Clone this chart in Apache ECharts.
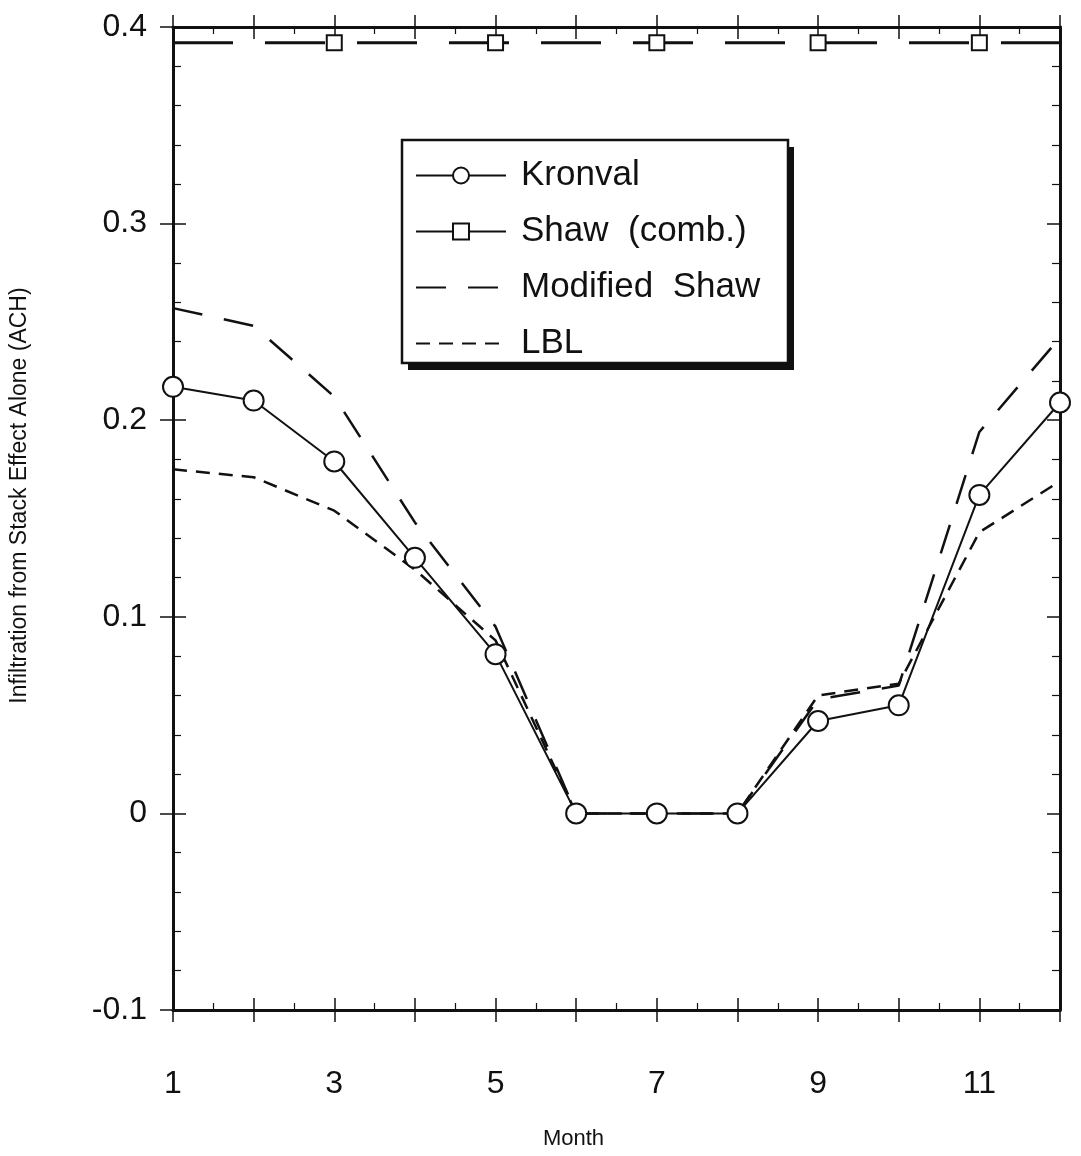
<!DOCTYPE html>
<html>
<head>
<meta charset="utf-8">
<script src="https://cdn.jsdelivr.net/npm/echarts@6/dist/echarts.min.js"></script>
<style>
    html, body { margin: 0; padding: 0; background: #fff; }
    #chart { width: 1081px; height: 1156px; }
</style>
</head>
<body>
<div id="chart"></div>
<script>
const months = [1, 2, 3, 4, 5, 6, 7, 8, 9, 10, 11, 12];
const kronval = [0.217, 0.210, 0.179, 0.130, 0.081, 0, 0, 0, 0.047, 0.055, 0.162, 0.209];
const shawComb = [0.392, 0.392, 0.392, 0.392, 0.392, 0.392, 0.392, 0.392, 0.392, 0.392, 0.392, 0.392];
const shawMarked = [3, 5, 7, 9, 11];
const modifiedShaw = [0.257, 0.248, 0.212, 0.148, 0.095, 0, 0, 0, 0.058, 0.065, 0.194, 0.242];
const lbl = [0.175, 0.171, 0.154, 0.124, 0.088, 0, 0, 0, 0.060, 0.066, 0.143, 0.169];
const yTicks = [-0.1, 0, 0.1, 0.2, 0.3, 0.4];
const xLabelled = [1, 3, 5, 7, 9, 11];

const INK = '#111';
const FONT = '"Liberation Sans", Arial, Helvetica, sans-serif';

function pairs(vals) {
    return months.map((m, i) => [m, vals[i]]);
}

function xAxisDef(pos, inner) {
    return {
        type: 'value', min: 1, max: 12, interval: 1, position: pos,
        axisLine: { show: inner, onZero: false, lineStyle: { color: INK, width: 3 } },
        axisTick: { show: true, inside: inner, length: 12, lineStyle: { color: INK, width: 1.5 } },
        minorTick: { show: inner, splitNumber: 2, length: 7, lineStyle: { color: INK, width: 1.2 } },
        splitLine: { show: false },
        axisLabel: {
            show: inner && pos == 'bottom', margin: 58,
            color: INK, fontSize: 32, fontFamily: FONT,
            formatter: v => xLabelled.includes(v) ? String(v) : ''
        }
    };
}

function yAxisDef(pos, inner) {
    return {
        type: 'value', min: -0.1, max: 0.4, interval: 0.1, position: pos,
        axisLine: { show: inner, onZero: false, lineStyle: { color: INK, width: 3 } },
        axisTick: { show: inner || pos == 'left', inside: inner, length: 13, lineStyle: { color: INK, width: 1.5 } },
        minorTick: { show: inner, splitNumber: 5, length: 8, lineStyle: { color: INK, width: 1.2 } },
        splitLine: { show: false },
        axisLabel: {
            show: inner && pos == 'left', margin: 26,
            color: INK, fontSize: 32, fontFamily: FONT,
            formatter: v => {
                let t = yTicks.find(y => Math.abs(y - v) < 1e-9);
                return t === undefined ? '' : (t === 0 ? '0' : t.toFixed(1));
            }
        }
    };
}

let xAxes = [xAxisDef('bottom', true), xAxisDef('bottom', false), xAxisDef('top', true), xAxisDef('top', false)];
xAxes[0].name = 'Month';
xAxes[0].nameLocation = 'middle';
xAxes[0].nameGap = 118;
xAxes[0].nameTextStyle = { color: INK, fontSize: 22, fontFamily: FONT, padding: [0, 86, 0, 0] };

let yAxes = [yAxisDef('left', true), yAxisDef('left', false), yAxisDef('right', true), yAxisDef('right', false)];
yAxes[0].name = 'Infiltration from Stack Effect Alone (ACH)';
yAxes[0].nameLocation = 'middle';
yAxes[0].nameGap = 142;
yAxes[0].nameTextStyle = { color: INK, fontSize: 23, fontFamily: FONT, padding: [0, 0, 0, 46] };

// legend frame with its solid drop shadow
const box = { x: 402, y: 140, w: 386, h: 223 };

const chart = echarts.init(document.getElementById('chart'));
chart.setOption({
    backgroundColor: '#fff',
    animation: false,
    color: [INK],
    grid: { left: 173, right: 21, top: 27, bottom: 146 },
    xAxis: xAxes,
    yAxis: yAxes,
    graphic: [
        { type: 'rect', z: 5, shape: { x: box.x + 6, y: box.y + 7, width: box.w, height: box.h }, style: { fill: INK } },
        { type: 'rect', z: 6, shape: { x: box.x, y: box.y, width: box.w, height: box.h }, style: { fill: '#fff', stroke: INK, lineWidth: 2.5 } }
    ],
    legend: {
        orient: 'vertical', left: box.x, top: box.y, z: 10,
        padding: [18, 20, 8, 13],
        itemWidth: 90, itemHeight: 20, itemGap: 21,
        data: [
            { name: 'Kronval' },
            { name: 'Shaw  (comb.)', lineStyle: { type: 'solid' } },
            { name: 'Modified  Shaw', itemStyle: { opacity: 0 } },
            { name: 'LBL', itemStyle: { opacity: 0 } }
        ],
        textStyle: { color: INK, fontSize: 35, fontFamily: FONT, padding: [0, 0, 0, 10] }
    },
    series: [
        {
            name: 'LBL', type: 'line', data: pairs(lbl),
            symbol: 'none', z: 2,
            itemStyle: { color: INK },
            lineStyle: { color: INK, width: 2.5, type: [14, 9] }
        },
        {
            name: 'Modified  Shaw', type: 'line', data: pairs(modifiedShaw),
            symbol: 'none', z: 2,
            itemStyle: { color: INK },
            lineStyle: { color: INK, width: 2.5, type: [30, 22] }
        },
        {
            name: 'Shaw  (comb.)', type: 'line',
            data: pairs(shawComb).map(p => shawMarked.includes(p[0]) ? { value: p } : { value: p, symbol: 'none' }),
            symbol: 'emptyRect', symbolSize: 15, z: 3,
            itemStyle: { color: INK, borderWidth: 1.5 },
            lineStyle: { color: INK, width: 3, type: [60, 32] }
        },
        {
            name: 'Kronval', type: 'line', data: pairs(kronval),
            symbol: 'emptyCircle', symbolSize: 20, z: 4,
            itemStyle: { color: INK, borderWidth: 1.5 },
            lineStyle: { color: INK, width: 2 }
        }
    ]
});
</script>
</body>
</html>
